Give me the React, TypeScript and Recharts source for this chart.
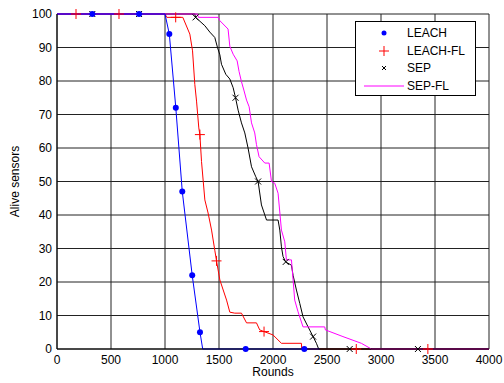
import { ComposedChart, Line, Scatter, XAxis, YAxis, CartesianGrid } from 'recharts';

// [round, alive sensors]
const leach = [
  [0, 100], [1000, 100], [1040, 94], [1100, 72], [1160, 47], [1252, 22], [1324, 5], [1349, 0], [2430, 0],
];
const leachFl = [
  [0, 100], [1000, 100], [1017, 99], [1165, 99], [1230, 94], [1255, 89], [1276, 79], [1292, 74],
  [1313, 66], [1323, 64], [1338, 56], [1369, 44.5], [1399, 40.6], [1431, 35.5], [1461, 29.5],
  [1477, 26.3], [1508, 20.6], [1570, 14.6], [1600, 11], [1646, 10.7], [1708, 10.7], [1755, 7.8],
  [1847, 7.8], [1877, 5.7], [1917, 5.2], [2000, 4.2], [2078, 1.7], [2263, 1.7], [2266, 0], [4000, 0],
];
const sep = [
  [0, 100], [1276, 100], [1283, 99], [1369, 96.5], [1415, 94.6], [1461, 93], [1486, 90], [1508, 87.8],
  [1523, 85], [1563, 82], [1600, 80.6], [1631, 78], [1653, 75], [1677, 71.3], [1708, 67.5],
  [1739, 64.5], [1769, 60], [1801, 54.4], [1841, 51.4], [1862, 50], [1893, 43], [1940, 38.5],
  [2047, 38.5], [2063, 35.5], [2078, 30.5], [2093, 27.6], [2118, 26], [2171, 25], [2186, 22],
  [2217, 17.6], [2248, 13.6], [2278, 9.6], [2325, 6.6], [2371, 3.7], [2402, 1.7], [2423, 0], [4000, 0],
];
const sepFl = [
  [0, 100], [1300, 100], [1310, 99], [1492, 99], [1508, 98], [1584, 95.5], [1600, 90.4], [1631, 88],
  [1668, 86], [1686, 82.8], [1708, 79.8], [1730, 77.3], [1755, 74.3], [1779, 72.3], [1801, 67.5],
  [1831, 64.5], [1847, 61], [1871, 57.4], [1924, 55.5], [1964, 55.5], [1986, 50], [2016, 49.5],
  [2047, 46.5], [2078, 35.5], [2109, 32], [2124, 26.6], [2171, 26.6], [2186, 20.6], [2201, 14.6],
  [2232, 11.1], [2278, 6.6], [2479, 6.6], [2485, 5.7], [2648, 3.7], [2818, 1.7], [2911, 0], [4000, 0],
];

// marker positions
const leachMarks = [[327, 100], [760, 100], [1040, 94], [1100, 72], [1160, 47], [1252, 22], [1324, 5], [1747, 0], [2290, 0]];
const leachFlMarks = [[176, 100], [574, 100], [1099, 99], [1323, 64], [1477, 26.3], [1917, 5.2], [2771, 0], [3434, 0]];
const sepMarks = [[327, 100], [760, 100], [1283, 99], [1653, 75], [1862, 50], [2118, 26], [2371, 3.7], [2710, 0], [3342, 0]];

const xTicks = [0, 500, 1000, 1500, 2000, 2500, 3000, 3500, 4000];
const yTicks = [0, 10, 20, 30, 40, 50, 60, 70, 80, 90, 100];

const toPts = (arr: number[][]) => arr.map(([x, y]) => ({ x, y }));

const Dot = (p: any) => <circle cx={p.cx} cy={p.cy} r={3} fill="#0000ff" />;
const Plus = (p: any) => (
  <path d={`M${p.cx - 5},${p.cy}H${p.cx + 5}M${p.cx},${p.cy - 5}V${p.cy + 5}`} stroke="#ff0000" strokeWidth={1} />
);
const Cross = (p: any) => (
  <path d={`M${p.cx - 3},${p.cy - 3}L${p.cx + 3},${p.cy + 3}M${p.cx - 3},${p.cy + 3}L${p.cx + 3},${p.cy - 3}`} stroke="#000" strokeWidth={1} />
);

const font = '"Liberation Sans", Arial, sans-serif';

const App = () => {
  return (
    <div style={{ position: 'absolute', left: 0, top: 0, width: 504, height: 383, background: '#fff', fontFamily: font }}>
      <ComposedChart width={504} height={383} margin={{ top: 14, right: 15, left: 0, bottom: 0 }}>
        <CartesianGrid stroke="#222" strokeWidth={1} horizontalValues={yTicks} verticalValues={xTicks} />
        <XAxis
          type="number"
          dataKey="x"
          domain={[0, 4000]}
          ticks={xTicks}
          height={34}
          tickLine={false}
          tickSize={0}
          tickMargin={6}
          stroke="#000"
          tick={{ fill: '#000', fontSize: 12, fontFamily: font }}
          label={{ value: 'Rounds', position: 'insideBottom', offset: 7, fill: '#000', fontSize: 12, fontFamily: font }}
        />
        <YAxis
          type="number"
          dataKey="y"
          domain={[0, 100]}
          ticks={yTicks}
          width={57}
          tickLine={false}
          tickSize={0}
          tickMargin={5}
          stroke="#000"
          tick={{ fill: '#000', fontSize: 12, fontFamily: font }}
          label={{ value: 'Alive sensors', angle: -90, position: 'insideLeft', offset: 15, fill: '#000', fontSize: 12, fontFamily: font, style: { textAnchor: 'middle' } }}
        />
        <Line data={toPts(leachFl)} dataKey="y" stroke="#ff0000" strokeWidth={1} dot={false} isAnimationActive={false} />
        <Line data={toPts(sep)} dataKey="y" stroke="#000000" strokeWidth={1} dot={false} isAnimationActive={false} />
        <Line data={toPts(sepFl)} dataKey="y" stroke="#ff00ff" strokeWidth={1} dot={false} isAnimationActive={false} />
        <Line data={toPts(leach)} dataKey="y" stroke="#0000ff" strokeWidth={1} dot={false} isAnimationActive={false} />
        <Scatter data={toPts(leachFlMarks)} shape={Plus} isAnimationActive={false} />
        <Scatter data={toPts(sepMarks)} shape={Cross} isAnimationActive={false} />
        <Scatter data={toPts(leachMarks)} shape={Dot} isAnimationActive={false} />
      </ComposedChart>
      <div style={{ position: 'absolute', left: 355, top: 21, width: 119, height: 73, border: '1px solid #000', background: '#fff', fontSize: 12 }}>
        {[
          { name: 'LEACH', mark: <circle cx={28} cy={7} r={2.5} fill="#0000ff" /> },
          { name: 'LEACH-FL', mark: <path d="M23,7H33M28,2V12" stroke="#ff0000" /> },
          { name: 'SEP', mark: <path d="M26,5L30,9M26,9L30,5" stroke="#000" /> },
          { name: 'SEP-FL', mark: <path d="M8,7H48" stroke="#ff00ff" /> },
        ].map((e, i) => (
          <div key={e.name} style={{ position: 'absolute', left: 0, top: 4 + i * 17.6, height: 14, width: 119 }}>
            <svg width={50} height={14} style={{ position: 'absolute', left: 0, top: 0 }}>{e.mark}</svg>
            <span style={{ position: 'absolute', left: 51, top: 0, lineHeight: '14px' }}>{e.name}</span>
          </div>
        ))}
      </div>
    </div>
  );
};

export default App;
